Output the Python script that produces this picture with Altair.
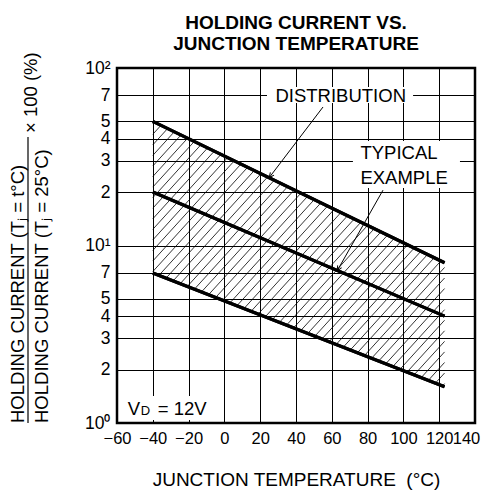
import altair as alt
import numpy as np
import pandas as pd

# ---------------- data ----------------
temps = [-40, 123]
upper = [50, 8]
typical = [20, 4]
lower = [7, 1.6]

x_tick_values = [-60, -40, -20, 0, 20, 40, 60, 80, 100, 120, 140]
y_tick_values = [1, 2, 3, 4, 5, 7, 10, 20, 30, 40, 50, 70, 100]

ann_labels = ["DISTRIBUTION", "TYPICAL", "EXAMPLE"]
ann_x = [65, 76, 76]
ann_y = [70, 33.8, 24.4]
ann_align = ["center", "left", "left"]

box_x = [23.8, 71.8, -55]
box_x2 = [105.4, 131.6, -4.7]
box_y = [63.5, 21.1, 1.04]
box_y2 = [78.2, 38.8, 1.42]

lead_x = [55.1, 88.6]
lead_y = [60.3, 20.5]
lead_x2 = [25, 63]
lead_y2 = [24.1, 7.2]

# ---------------- geometry ----------------
W, H = 358, 355
X_DOM = [-60, 140]
Y_DOM = [1, 100]
FONT = "Liberation Sans"

kx = W / (X_DOM[1] - X_DOM[0])
ky = H / (np.log10(Y_DOM[1]) - np.log10(Y_DOM[0]))

xs = alt.Scale(domain=X_DOM, nice=False, zero=False)
ys = alt.Scale(type="log", domain=Y_DOM, nice=False)

y_label_expr = ("datum.value == 1 ? '10\u2070' : datum.value == 10 ? '10\u00b9' : "
                "datum.value == 100 ? '10\u00b2' : "
                "format(datum.value >= 10 ? datum.value / 10 : datum.value, 'd')")
XAX = alt.Axis(
    values=x_tick_values, format="d", grid=True, ticks=False, domain=False,
    labelPadding=7, labelFlush=False, labelOverlap=False, labelFontSize=16.5,
    labelOffset={"condition": {"test": "datum.value == 140", "value": -9}, "value": 0},
    title="JUNCTION TEMPERATURE\u00a0\u00a0(°C)", titlePadding=24,
    titleFontSize=19, titleFontWeight="normal", titleFont=FONT)
YAX = alt.Axis(
    values=y_tick_values, labelExpr=y_label_expr, grid=True, ticks=False, domain=False,
    labelPadding=7, labelFlush=False, labelOverlap=False, title=None)

lines_df = pd.DataFrame({
    "t": temps * 3,
    "v": upper + typical + lower,
    "s": ["upper"] * 2 + ["typical"] * 2 + ["lower"] * 2,
})

# hatch between lower and upper boundary (straight lines in screen space)
x0, x1 = temps
lu0, lu1 = np.log10(upper)
ll0, ll1 = np.log10(lower)
bu = (lu1 - lu0) / (x1 - x0)
bl = (ll1 - ll0) / (x1 - x0)
slope_px = 1.1
spacing_px = 9.6
s = slope_px * kx / ky
dc = s * spacing_px / kx
c_min = ll1 - s * x1
c_max = lu0 - s * x0
rows = []
c = c_min + dc * 0.3
while c < c_max:
    xl = (ll0 - bl * x0 - c) / (s - bl)
    xu = (lu0 - bu * x0 - c) / (s - bu)
    a = max(x0, xl)
    b = min(x1, xu)
    if a < b:
        rows.append({"t": a, "v": 10 ** (c + s * a), "t2": b, "v2": 10 ** (c + s * b)})
    c += dc
hatch_df = pd.DataFrame(rows)

ann_df = pd.DataFrame({"label": ann_labels, "t": ann_x, "v": ann_y, "align": ann_align})
box_df = pd.DataFrame({"t": box_x, "t2": box_x2, "v": box_y, "v2": box_y2})
lead_df = pd.DataFrame({"t": lead_x, "v": lead_y, "t2": lead_x2, "v2": lead_y2})


def px(xv):
    return (xv - X_DOM[0]) * kx


def py(yv):
    return H - np.log10(yv) * ky


angles = []
for i in range(len(lead_x)):
    dx = px(lead_x2[i]) - px(lead_x[i])
    dy = py(lead_y2[i]) - py(lead_y[i])
    angles.append(float(np.degrees(np.arctan2(dx, -dy)) % 360))
head_df = pd.DataFrame({"t": lead_x2, "v": lead_y2, "ang": angles})

X = alt.X("t:Q", scale=xs, axis=XAX)
Y = alt.Y("v:Q", scale=ys, axis=YAX)

# ---------------- layers ----------------
base_lines = alt.Chart(lines_df).mark_line(color="black", strokeWidth=3.2).encode(
    x=X, y=Y, detail="s:N",
)

boxes = alt.Chart(box_df).mark_rect(color="white").encode(x=X, x2="t2:Q", y=Y, y2="v2:Q")

hatch = alt.Chart(hatch_df).mark_rule(color="black", strokeWidth=0.8).encode(
    x=X, x2="t2:Q", y=Y, y2="v2:Q")

leads = alt.Chart(lead_df).mark_rule(color="black", strokeWidth=1).encode(
    x=X, x2="t2:Q", y=Y, y2="v2:Q")

heads = alt.Chart(head_df).mark_point(
    shape="M-0.45,1L0,0L0.45,1", filled=False, color="black", strokeWidth=1, size=100, opacity=1
).encode(x=X, y=Y, angle=alt.Angle("ang:Q", scale=None))

ann_center = alt.Chart(ann_df[ann_df["align"] == "center"]).mark_text(
    font=FONT, fontSize=18.5, color="black", align="center", baseline="middle", dy=1
).encode(x=X, y=Y, text="label:N")
ann_left = alt.Chart(ann_df[ann_df["align"] == "left"]).mark_text(
    font=FONT, fontSize=18.5, color="black", align="left", baseline="middle", dy=1
).encode(x=X, y=Y, text="label:N")

one = pd.DataFrame({"k": [0]})
vd_parts = []
for txt, dx, fs in [("V", 0, 18.5), ("D", 13, 13), ("= 12V", 30, 18.5)]:
    vd_parts.append(alt.Chart(one).mark_text(
        text=txt, font=FONT, fontSize=fs, color="black", align="left", baseline="alphabetic", dx=dx
    ).encode(x=alt.value(px(-54)), y=alt.value(347)))

ylab1 = alt.Chart(one).mark_text(
    text="HOLDING CURRENT (T\u2c7c = t°C)", font=FONT, fontSize=18.5, color="black",
    angle=270, align="left", baseline="alphabetic"
).encode(x=alt.value(-93), y=alt.value(355))
ylab2 = alt.Chart(one).mark_text(
    text="HOLDING CURRENT (T\u2c7c = 25°C)", font=FONT, fontSize=18.5, color="black",
    angle=270, align="left", baseline="alphabetic"
).encode(x=alt.value(-69), y=alt.value(355))
ylab3 = alt.Chart(one).mark_text(
    text="\u00d7 100 (%)", font=FONT, fontSize=18.5, color="black",
    angle=270, align="left", baseline="alphabetic"
).encode(x=alt.value(-80), y=alt.value(65))
frac_bar = alt.Chart(one).mark_rule(color="black", strokeWidth=1.2).encode(
    x=alt.value(-89), y=alt.value(69), y2=alt.value(355)
)

chart = alt.layer(
    base_lines, boxes, hatch, base_lines, leads, heads, ann_center, ann_left,
    *vd_parts, ylab1, ylab2, ylab3, frac_bar
).properties(
    width=W, height=H,
    title=alt.TitleParams(
        text=["HOLDING CURRENT VS.", "JUNCTION TEMPERATURE"], font=FONT, fontSize=19,
        fontWeight="bold", anchor="middle", lineHeight=21, offset=-2, color="black"),
    autosize=alt.AutoSizeParams(type="none"),
    padding={"left": 109, "top": 60, "right": 6, "bottom": 67},
).configure_view(
    stroke="black", strokeWidth=2.5
).configure_axis(
    gridColor="black", gridWidth=1, gridOpacity=1,
    labelFont=FONT, labelFontSize=17.5, labelColor="black", titleColor="black",
)

chart.save("out.html", embed_options={"renderer": "svg", "actions": False})
